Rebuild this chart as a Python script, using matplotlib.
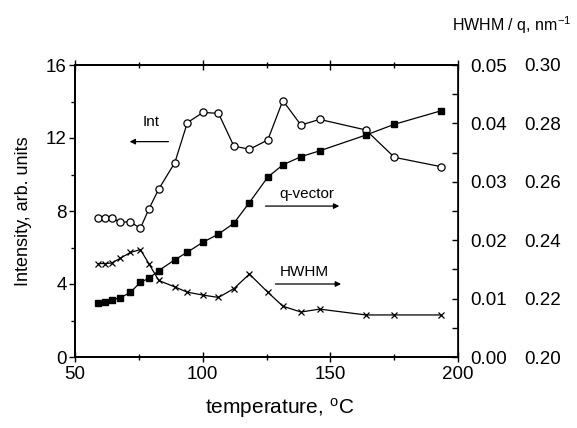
import matplotlib
matplotlib.use("Agg")
import matplotlib.pyplot as plt
from matplotlib.ticker import MultipleLocator, FormatStrFormatter

plt.rcParams['font.family'] = ['Liberation Sans', 'DejaVu Sans']
plt.rcParams['mathtext.default'] = 'regular'

temperature = [59.2, 61.8, 64.4, 67.7, 71.7, 75.6, 78.9, 82.8, 89.1, 94.0, 100.1,
               106.2, 112.2, 118.3, 125.5, 131.4, 138.5, 145.8, 163.9, 175.1, 193.3]
intensity = [7.6, 7.6, 7.6, 7.4, 7.4, 7.05, 8.1, 9.2, 10.65, 12.84, 13.4,
             13.35, 11.56, 11.38, 11.89, 14.05, 12.71, 13.02, 12.44, 10.94, 10.43]
q_vector = [0.2184, 0.2188, 0.2195, 0.2203, 0.2221, 0.2256, 0.2269, 0.2296, 0.2333,
            0.2359, 0.2393, 0.2421, 0.2458, 0.2529, 0.2616, 0.2658, 0.2686, 0.2706,
            0.2760, 0.2797, 0.2843]
hwhm = [0.0160, 0.0160, 0.0161, 0.0169, 0.0179, 0.0184, 0.0160, 0.0131, 0.0120,
        0.0111, 0.0106, 0.0102, 0.0117, 0.0142, 0.0111, 0.0087, 0.0077, 0.0082,
        0.0072, 0.0072, 0.0072]

fig = plt.figure(figsize=(5.77, 4.28), dpi=100)
ax = fig.add_axes([75/577, 1-357/428, 383/577, 292/428])
ax2 = ax.twinx()
ax3 = ax.twinx()

lw = 0.9
ax.plot(temperature, intensity, color='black', lw=lw, marker='o', ms=5.2,
        mfc='white', mec='black', mew=0.9, zorder=3)
ax3.plot(temperature, q_vector, color='black', lw=lw, marker='s', ms=4.3,
         mfc='black', mec='black', zorder=3)
ax2.plot(temperature, hwhm, color='black', lw=lw, marker='x', ms=4.5,
         mec='black', mew=0.9, zorder=3)

ax.set_xlim(50, 200)
ax.set_ylim(0, 16)
ax2.set_ylim(0, 0.05)
ax3.set_ylim(0.20, 0.30)

fs = 13.5
ax.xaxis.set_major_locator(MultipleLocator(50))
ax.xaxis.set_minor_locator(MultipleLocator(25))
ax.yaxis.set_major_locator(MultipleLocator(4))
ax.yaxis.set_minor_locator(MultipleLocator(2))
ax.tick_params(axis='y', which='both', direction='out', left=True, right=False,
               labelsize=fs, width=1.0, pad=2)
ax.tick_params(axis='y', which='major', length=4)
ax.tick_params(axis='y', which='minor', length=3)
ax.tick_params(axis='x', which='both', direction='inout', top=True, bottom=True,
               labelsize=fs, width=1.0, pad=3)
ax.tick_params(axis='x', which='major', length=7)
ax.tick_params(axis='x', which='minor', length=5)

ax2.yaxis.set_major_locator(MultipleLocator(0.01))
ax2.yaxis.set_minor_locator(MultipleLocator(0.005))
ax2.yaxis.set_major_formatter(FormatStrFormatter('%.2f'))
ax2.tick_params(axis='y', which='both', direction='in', labelsize=fs, width=1.0, pad=8.5)
ax2.tick_params(axis='y', which='major', length=4)
ax2.tick_params(axis='y', which='minor', length=4)

ax3.spines['right'].set_position(('outward', 43))
ax3.spines['right'].set_visible(False)
ax3.yaxis.set_major_locator(MultipleLocator(0.02))
ax3.yaxis.set_major_formatter(FormatStrFormatter('%.2f'))
ax3.tick_params(axis='y', which='both', length=0, labelsize=fs, pad=4.5)

for a in (ax, ax2, ax3):
    for s in ('top', 'bottom', 'left'):
        a.spines[s].set_linewidth(1.2)
ax2.spines['right'].set_linewidth(1.2)

ax.set_xlabel('temperature, $^{o}$C', fontsize=15, labelpad=12)
ax.xaxis.set_label_coords(0.535, -0.135)
ax.set_ylabel('Intensity, arb. units', fontsize=13, labelpad=10)
fig.text(512/577, 1-25/428, 'HWHM / q, nm$^{-1}$', fontsize=11.5, ha='center', va='center')

akw = dict(arrowstyle='-|>', color='black', lw=0.9, mutation_scale=8)
ax.text(79.7, 12.5, 'Int', fontsize=11, ha='center', va='bottom')
ax.annotate('', xy=(70.3, 11.8), xytext=(87.7, 11.8), arrowprops=akw)
ax.text(141.0, 8.55, 'q-vector', fontsize=11, ha='center', va='bottom')
ax.annotate('', xy=(154.6, 8.27), xytext=(123.5, 8.27), arrowprops=akw)
ax.text(140.0, 4.3, 'HWHM', fontsize=11, ha='center', va='bottom')
ax.annotate('', xy=(155.3, 4.0), xytext=(127.4, 4.0), arrowprops=akw)

fig.savefig('out.png', dpi=100)
